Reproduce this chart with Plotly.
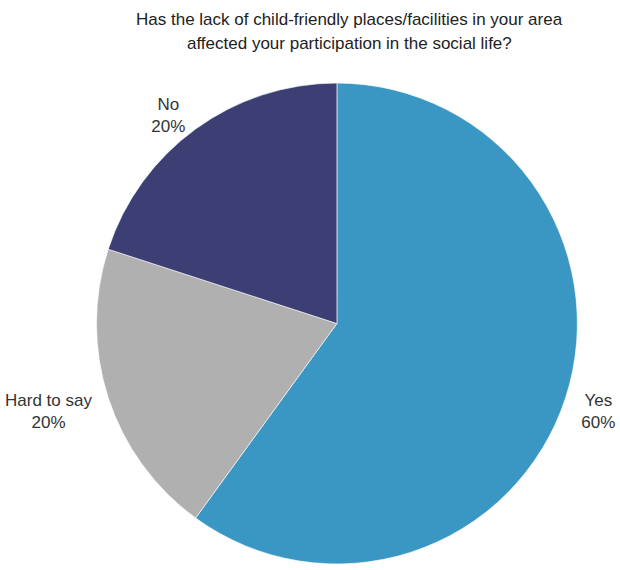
import plotly.graph_objects as go

labels = ["Yes", "Hard to say", "No"]
values = [60, 20, 20]
colors = ["#3a96c2", "#b0b0b0", "#3c3e74"]
title_lines = ["Has the lack of child-friendly places/facilities in your area",
               "affected your participation in the social life?"]

FONT = "Liberation Sans, Arial, sans-serif"
NB = "\u00a0"

# a blank first line pushes the lower outside labels further from the pie, as in the reference
templates = [
    NB + "<br>%{label}<br>%{percent}",
    NB + "<br>%{label}<br>%{percent}",
    "%{label}<br>%{percent}",
]

fig = go.Figure(go.Pie(
    labels=labels, values=values, sort=False, direction="clockwise", rotation=0,
    marker=dict(colors=colors, line=dict(color="white", width=0.6)),
    texttemplate=templates, textposition="outside",
    textfont=dict(family=FONT, size=17, color="#333333"),
    domain=dict(x=[0.153, 0.94], y=[0, 1]),
    showlegend=False, hoverinfo="label+percent",
))

H_TOP = 82
PLOT_H = 570 - H_TOP
annotations = []
for line, py in zip(title_lines, [19, 43]):
    annotations.append(dict(
        text=line, xref="paper", yref="paper", x=352 / 620, y=(570 - py) / PLOT_H,
        xanchor="center", yanchor="middle", showarrow=False,
        font=dict(family=FONT, size=17, color="#222222"),
    ))

fig.update_layout(
    width=620, height=570,
    margin=dict(l=0, r=0, t=H_TOP, b=0),
    paper_bgcolor="white", plot_bgcolor="white",
    annotations=annotations,
)

fig.write_html("out.html")
